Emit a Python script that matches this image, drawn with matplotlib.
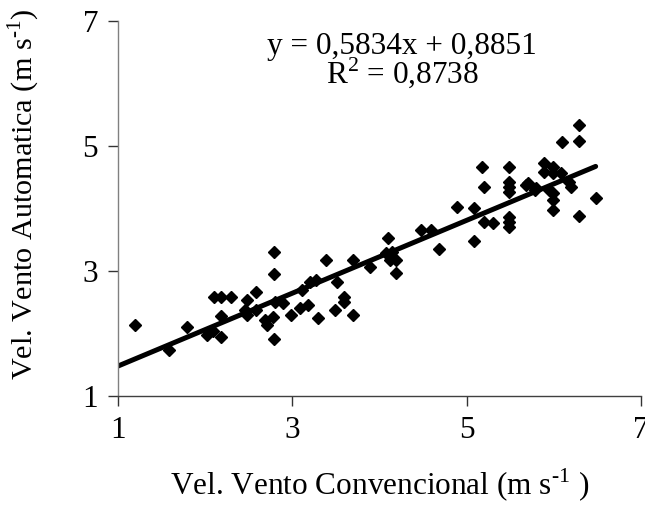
import matplotlib
matplotlib.use("Agg")
import matplotlib.pyplot as plt
import numpy as np

# Data
vel_convencional = [1.20, 1.79, 1.59, 2.10, 2.19, 2.30, 2.48, 2.19, 2.02, 2.19,
                    2.09, 2.79, 2.79, 2.59, 2.46, 2.48, 2.69, 2.71, 2.78, 2.79,
                    2.80, 2.90, 2.99, 3.09, 3.18, 3.11, 3.20, 3.28, 3.30, 3.39,
                    3.51, 3.49, 3.60, 3.60, 3.70, 3.70, 3.89, 4.10, 4.08, 4.15,
                    4.12, 4.19, 4.19, 4.48, 4.59, 4.69, 4.89, 5.09, 5.20, 5.20,
                    5.09, 5.30, 6.29, 6.29, 6.09, 5.18, 5.49, 5.49, 5.49, 5.49,
                    5.70, 5.80, 5.68, 5.78, 5.89, 5.89, 5.99, 5.99, 6.08, 6.18,
                    6.20, 5.95, 5.99, 5.99, 5.99, 6.48, 6.29, 5.49, 5.49, 5.49,
                    2.59]
vel_automatica = [2.13, 2.10, 1.73, 2.58, 2.58, 2.58, 2.53, 2.27, 1.97, 1.94,
                  2.03, 3.29, 2.94, 2.66, 2.37, 2.29, 2.21, 2.13, 2.26, 1.90,
                  2.50, 2.48, 2.29, 2.40, 2.45, 2.69, 2.82, 2.85, 2.24, 3.17,
                  2.82, 2.37, 2.58, 2.50, 3.17, 2.29, 3.06, 3.52, 3.28, 3.30,
                  3.17, 3.17, 2.96, 3.65, 3.65, 3.35, 4.02, 4.00, 4.34, 3.78,
                  3.48, 3.76, 5.33, 5.08, 5.05, 4.66, 4.65, 4.42, 4.34, 4.26,
                  4.40, 4.32, 4.37, 4.29, 4.72, 4.58, 4.66, 4.56, 4.56, 4.42,
                  4.34, 4.29, 4.24, 4.13, 3.97, 4.16, 3.87, 3.86, 3.78, 3.69,
                  2.37]

slope = 0.5834
intercept = 0.8851
r2 = 0.8738

x_ticks = [1, 3, 5, 7]
y_ticks = [1, 3, 5, 7]

plt.rcParams['font.family'] = ['Liberation Serif', 'DejaVu Serif']
plt.rcParams['mathtext.fontset'] = 'custom'
plt.rcParams['mathtext.rm'] = 'Liberation Serif'

fig = plt.figure(figsize=(6.45, 5.05), dpi=100)
ax = fig.add_axes([0.1823, 0.2168, 0.9938 - 0.1823, 0.9594 - 0.2168])

ax.plot(vel_convencional, vel_automatica, linestyle='none', marker='D',
        markersize=5.8, color='black', zorder=3)

x_line = np.array([x_ticks[0], max(vel_convencional)])
ax.plot(x_line, slope * x_line + intercept, color='black', linewidth=3.6,
        solid_capstyle='round', zorder=2)

ax.set_xlim(1, 7)
ax.set_ylim(1, 7)
ax.set_xticks(x_ticks)
ax.set_yticks(y_ticks)
ax.set_xticklabels([str(t) for t in x_ticks])
ax.set_yticklabels([str(t) for t in y_ticks])

for s in ['top', 'right']:
    ax.spines[s].set_visible(False)
ax.spines['left'].set_color('#808080')
ax.spines['bottom'].set_color('#404040')
for s in ['left', 'bottom']:
    ax.spines[s].set_linewidth(1.0)

ax.tick_params(axis='both', direction='out', length=7, width=1.0,
               colors='#333333', labelcolor='black', labelsize=22.5)
ax.tick_params(axis='x', pad=8)
ax.tick_params(axis='y', pad=7)

sup = '$^{\\mathregular{\\text{-1}}}$'
ax.set_xlabel('Vel. Vento Convencional (m s' + sup + ' )', fontsize=22.5)
ax.xaxis.set_label_coords(0.5, -0.19)
ax.set_ylabel('Vel. Vento Automatica (m s' + sup + ')', fontsize=21.8)
ax.yaxis.set_label_coords(-0.145, 0.537)

eq1 = 'y = {:.4f}x + {:.4f}'.format(slope, intercept).replace('.', ',')
eq2 = 'R$^{\\mathregular{2}}$ = ' + '{:.4f}'.format(r2).replace('.', ',')
fig.text(402 / 645, 1 - 32 / 505, eq1 + '\n' + eq2, ha='center', va='top',
         multialignment='center', linespacing=0.8, fontsize=22.5)

fig.savefig('out.png', dpi=100)
